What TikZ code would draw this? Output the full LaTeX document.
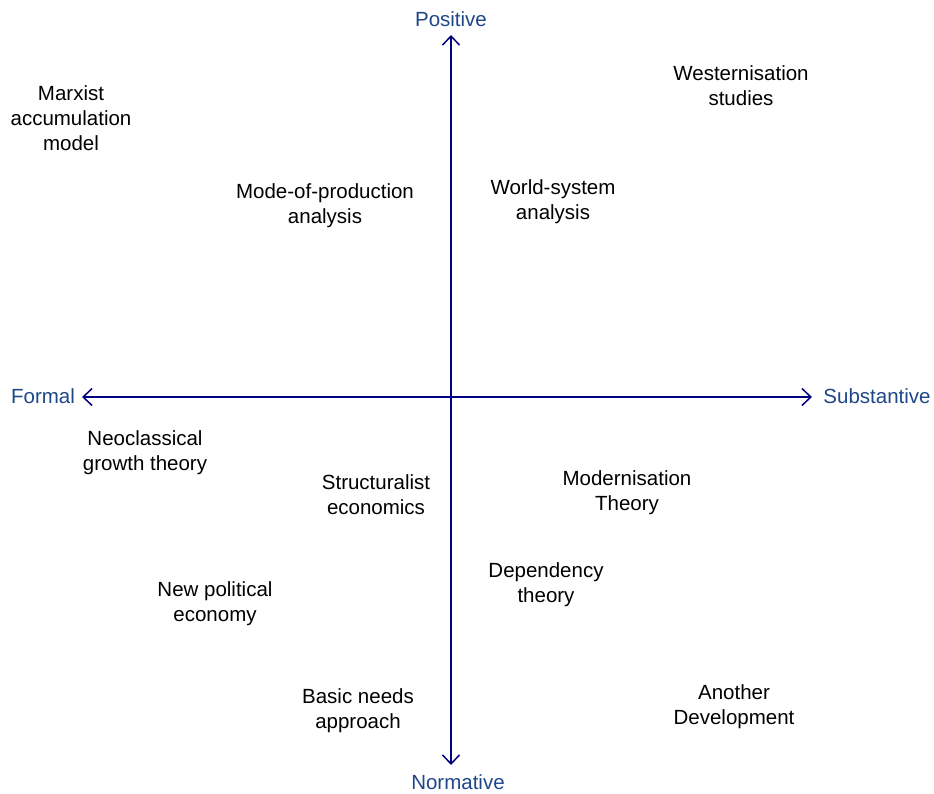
\documentclass[tikz,border=0pt]{standalone}
\usepackage{fontspec}
\setmainfont{Liberation Sans}
\usepackage{tikz}
\usetikzlibrary{arrows.meta}
\usetikzlibrary{positioning}
\definecolor{axisblue}{HTML}{000080}
\definecolor{labelblue}{HTML}{1F4788}
\tikzset{>={Straight Barb[length=9pt,width=17pt]}}
\tikzstyle{field} = [draw=none, align=center, inner sep=0, font=\fontsize{20.5}{25}\selectfont]
\tikzstyle{axlabel} = [draw=none, inner sep=0, text=labelblue, font=\fontsize{20.5}{25}\selectfont]

\begin{document}
\begin{tikzpicture}[x=1pt, y=-1pt]
\useasboundingbox (0,0) rectangle (934,794);
% axis ends
\coordinate (top) at (451, 35);
\coordinate (bottom) at (451, 765);
\coordinate (left) at (82, 397);
\coordinate (right) at (812, 397);
\draw [<->, draw=axisblue, line width=1.5pt] (left) to (right);
\draw [<->, draw=axisblue, line width=1.5pt] (bottom) to (top);
% axis labels
\node [axlabel] (pos) at (451, 19) {Positive};
\node [axlabel] (norm) at (458, 782) {Normative};
\node [axlabel] (form) at (43, 396) {Formal};
\node [axlabel] (subst) at (877, 396) {Substantive};
% approaches
\node [field] (marx) at (71, 118) {Marxist\\accumulation\\model};
\node [field] (west) at (741, 86) {Westernisation\\studies};
\node [field] (mode) at (325, 206) {Mode-of-production\\analysis};
\node [field] (world) at (553, 202) {World-system\\analysis};
\node [field] (neo) at (145, 453) {Neoclassical\\growth theory};
\node [field] (struct) at (376, 495) {Structuralist\\economics};
\node [field] (modern) at (627, 493) {Modernisation\\Theory};
\node [field] (dep) at (546, 585) {Dependency\\theory};
\node [field] (newpol) at (215, 604) {New political\\economy};
\node [field] (basic) at (358, 711) {Basic needs\\approach};
\node [field] (another) at (734, 707) {Another\\Development};
\end{tikzpicture}
\end{document}
